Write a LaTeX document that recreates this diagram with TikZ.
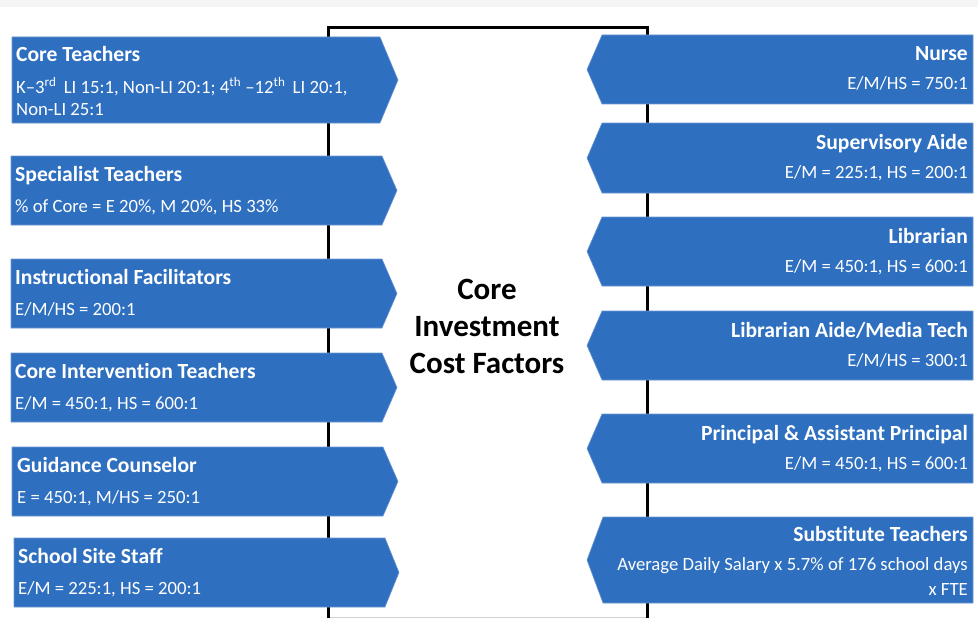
\documentclass[tikz,border=0pt]{standalone}
\usepackage{fontspec}
\setmainfont[Ligatures=NoCommon]{Carlito}
\definecolor{boxblue}{RGB}{46,111,192}
\definecolor{boxedge}{RGB}{110,150,210}
\tikzset{
  costbox/.style={fill=boxblue,draw=boxedge,line width=0.6pt},
  boxtitle/.style={text=white,inner sep=0pt,font=\fontsize{21.6}{24}\selectfont\bfseries},
  boxtext/.style={text=white,inner sep=0pt,font=\fontsize{18.7}{22}\selectfont},
  hubtext/.style={align=center,inner sep=0pt,font=\fontsize{31}{37}\selectfont\bfseries},
  frame/.style={line width=3pt,black},
}
\begin{document}
\begin{tikzpicture}[x=1pt,y=-1pt]
\useasboundingbox (0,0) rectangle (978,618);
\fill[gray!8] (0,0) rectangle (978,7);
\draw[gray!35,line width=0.8pt] (328,617) -- (647,617);
\draw[frame] (328,618) -- (328,28) -- (647,28) -- (647,618);

% left column
\draw[costbox] (12,37) -- (380,37) -- (398,80) -- (380,123) -- (12,123) -- cycle;
\node[boxtitle,anchor=base west] (core) at (16,62) {Core Teachers};
\node[boxtext,anchor=base west] (core1) at (16,93) {K–3\textsuperscript{rd}\, LI 15:1, Non-LI 20:1; 4\textsuperscript{th} –12\textsuperscript{th}\, LI 20:1,};
\node[boxtext,anchor=base west] (core2) at (16,115) {Non-LI 25:1};

\draw[costbox] (11,156) -- (382,156) -- (397,190.5) -- (382,225) -- (11,225) -- cycle;
\node[boxtitle,anchor=base west] (spec) at (15,181) {Specialist Teachers};
\node[boxtext,anchor=base west] (spec1) at (15,212) {\% of Core = E 20\%, M 20\%, HS 33\%};

\draw[costbox] (11,259) -- (382,259) -- (397,293.5) -- (382,328) -- (11,328) -- cycle;
\node[boxtitle,anchor=base west] (instr) at (15,284) {Instructional Facilitators};
\node[boxtext,anchor=base west] (instr1) at (15,315) {E/M/HS = 200:1};

\draw[costbox] (11,353) -- (382,353) -- (397,387.5) -- (382,422) -- (11,422) -- cycle;
\node[boxtitle,anchor=base west] (interv) at (15,378) {Core Intervention Teachers};
\node[boxtext,anchor=base west] (interv1) at (15,409) {E/M = 450:1, HS = 600:1};

\draw[costbox] (12,447) -- (383,447) -- (398,481.5) -- (383,516) -- (12,516) -- cycle;
\node[boxtitle,anchor=base west] (guide) at (17,472) {Guidance Counselor};
\node[boxtext,anchor=base west] (guide1) at (17,503) {E = 450:1, M/HS = 250:1};

\draw[costbox] (14,538) -- (385,538) -- (399,572.5) -- (385,607) -- (14,607) -- cycle;
\node[boxtitle,anchor=base west] (site) at (18,563) {School Site Staff};
\node[boxtext,anchor=base west] (site1) at (18,594) {E/M = 225:1, HS = 200:1};

% right column
\draw[costbox] (973,35) -- (602,35) -- (587,69.5) -- (602,104) -- (973,104) -- cycle;
\node[boxtitle,anchor=base east] (nurse) at (968,61) {Nurse};
\node[boxtext,anchor=base east] (nurse1) at (968,90) {E/M/HS = 750:1};

\draw[costbox] (973,123) -- (602,123) -- (587,158) -- (602,193) -- (973,193) -- cycle;
\node[boxtitle,anchor=base east] (superv) at (968,149) {Supervisory Aide};
\node[boxtext,anchor=base east] (superv1) at (968,178) {E/M = 225:1, HS = 200:1};

\draw[costbox] (973,217) -- (602,217) -- (587,251.5) -- (602,286) -- (973,286) -- cycle;
\node[boxtitle,anchor=base east] (libr) at (968,243) {Librarian};
\node[boxtext,anchor=base east] (libr1) at (968,272) {E/M = 450:1, HS = 600:1};

\draw[costbox] (973,311) -- (602,311) -- (587,345.5) -- (602,380) -- (973,380) -- cycle;
\node[boxtitle,anchor=base east] (libaide) at (968,337) {Librarian Aide/Media Tech};
\node[boxtext,anchor=base east] (libaide1) at (968,366) {E/M/HS = 300:1};

\draw[costbox] (973,414) -- (602,414) -- (587,448.5) -- (602,483) -- (973,483) -- cycle;
\node[boxtitle,anchor=base east] (princ) at (968,440) {Principal \& Assistant Principal};
\node[boxtext,anchor=base east] (princ1) at (968,469) {E/M = 450:1, HS = 600:1};

\draw[costbox] (973,517) -- (603,517) -- (587,560) -- (603,603) -- (973,603) -- cycle;
\node[boxtitle,anchor=base east] (subst) at (968,541) {Substitute Teachers};
\node[boxtext,anchor=base east] (subst1) at (968,570) {Average Daily Salary x 5.7\% of 176 school days};
\node[boxtext,anchor=base east] (subst2) at (968,595) {x FTE};

% centre
\node[hubtext] (hub) at (487,326) {Core\\Investment\\Cost Factors};
\end{tikzpicture}
\end{document}
